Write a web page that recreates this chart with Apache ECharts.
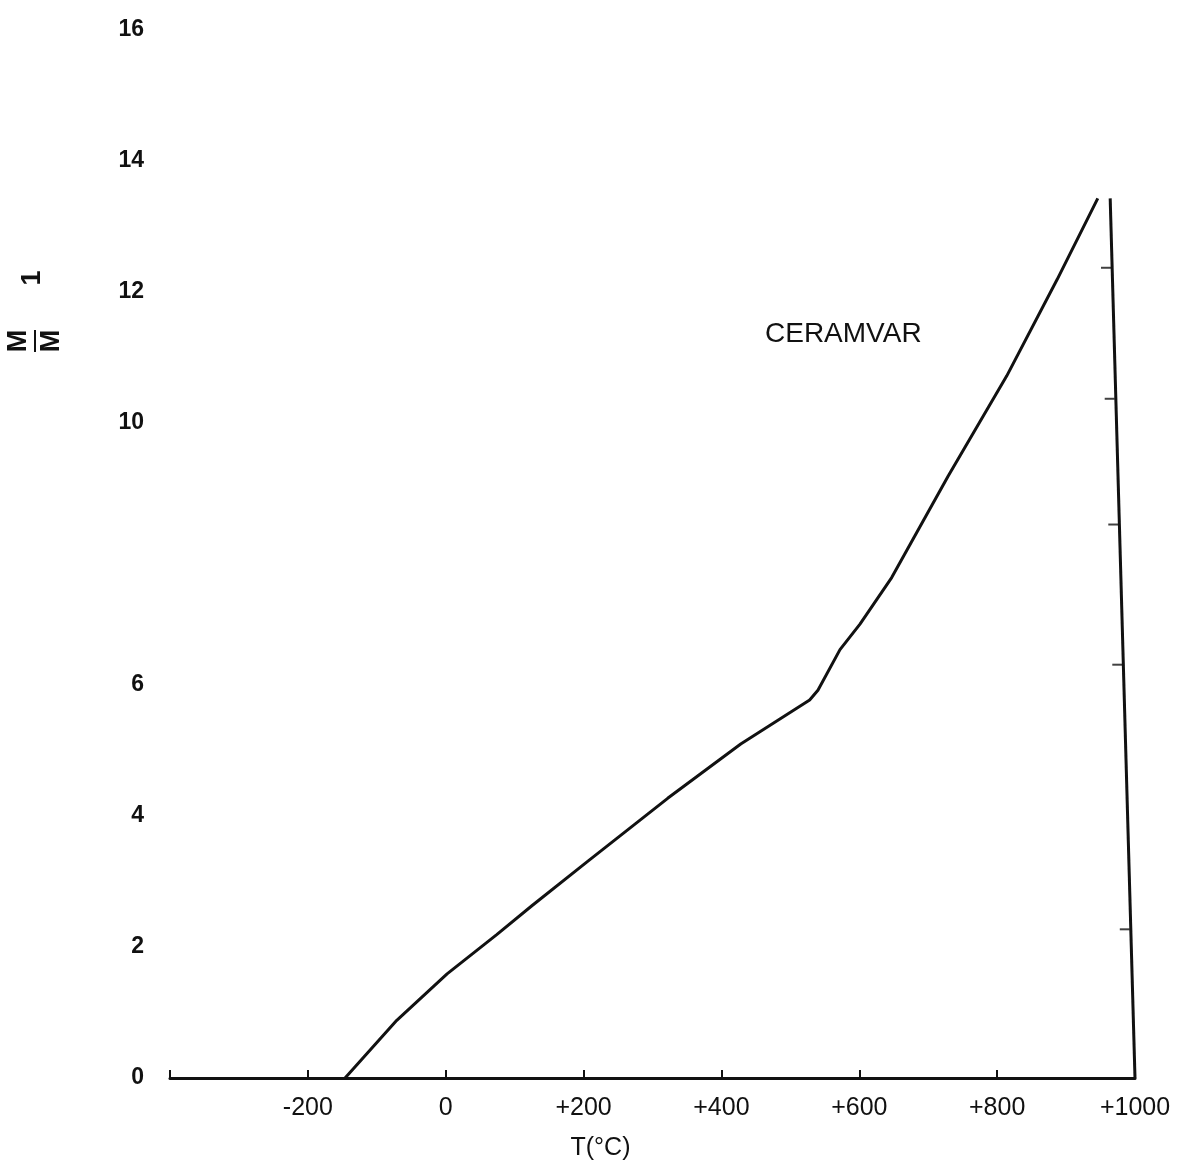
<!DOCTYPE html>
<html>
<head>
<meta charset="utf-8">
<script src="https://cdn.jsdelivr.net/npm/echarts@6/dist/echarts.min.js"></script>
<style>
  html, body { margin: 0; padding: 0; background: #ffffff; }
  #chart { width: 1184px; height: 1166px; }
</style>
</head>
<body>
<div id="chart"></div>
<script>
// Temperature (°C) and ratio values
var tempC = [-146, -71, 2, 74, 125, 205, 322, 428, 528, 540, 572, 601, 647, 729, 814, 887, 946];
var ratio = [0, 0.88, 1.59, 2.19, 2.63, 3.30, 4.27, 5.10, 5.77, 5.92, 6.54, 6.93, 7.64, 9.19, 10.72, 12.19, 13.43];

// Right-hand frame line (slightly slanted in the original) and its small ticks
var frameT = [1000, 964];
var frameV = [0, 13.43];
var frameTickT = [966.6, 972.0, 977.2, 983.0, 993.9];
var frameTickV = [12.37, 10.37, 8.45, 6.31, 2.27];

// Axis tick values
var xTicks = [-400, -200, 0, 200, 400, 600, 800, 1000];
var yTicks = [0, 2, 4, 6, 8, 10, 12, 14, 16];
var yHidden = [8];

var FONT = '"Liberation Sans", Arial, Helvetica, sans-serif';

var curve = tempC.map(function (t, i) { return [t, ratio[i]]; });
var frame = frameT.map(function (t, i) { return [t, frameV[i]]; });
var frameTicks = frameTickT.map(function (t, i) { return [t, frameTickV[i]]; });

var chart = echarts.init(document.getElementById('chart'), null, { renderer: 'canvas' });

chart.setOption({
  backgroundColor: '#ffffff',
  animation: false,
  grid: { left: 170, right: 49, top: 30, bottom: 78, containLabel: false },
  xAxis: {
    type: 'value',
    min: xTicks[0],
    max: xTicks[xTicks.length - 1],
    interval: 200,
    name: 'T(°C)',
    nameLocation: 'middle',
    nameGap: 58,
    nameTextStyle: { fontFamily: FONT, fontSize: 25, color: '#111', padding: [0, 104, 0, 0] },
    axisLine: { show: true, lineStyle: { color: '#111', width: 3 } },
    axisTick: { show: true, inside: true, length: 8, lineStyle: { color: '#111', width: 2 } },
    axisLabel: {
      margin: 18,
      fontFamily: FONT,
      fontSize: 25,
      color: '#111',
      formatter: function (v) {
        if (v === xTicks[0]) return '';
        return v > 0 ? '+' + v : String(v);
      }
    },
    splitLine: { show: false }
  },
  yAxis: {
    type: 'value',
    min: yTicks[0],
    max: yTicks[yTicks.length - 1],
    interval: 2,
    axisLine: { show: false },
    axisTick: { show: false },
    splitLine: { show: false },
    axisLabel: {
      margin: 26,
      fontFamily: FONT,
      fontSize: 23,
      fontWeight: 'bold',
      color: '#111',
      formatter: function (v) { return yHidden.indexOf(v) >= 0 ? '' : String(v); }
    }
  },
  series: [
    {
      type: 'line',
      name: 'CERAMVAR',
      data: curve,
      showSymbol: false,
      smooth: false,
      lineStyle: { color: '#111', width: 3 }
    },
    {
      type: 'line',
      data: frame,
      showSymbol: false,
      lineStyle: { color: '#111', width: 3 }
    },
    {
      type: 'scatter',
      data: frameTicks,
      symbol: 'rect',
      symbolSize: [10, 2],
      symbolOffset: [-6, 0],
      itemStyle: { color: '#111' }
    }
  ],
  graphic: [
    {
      type: 'text',
      left: 765,
      top: 320,
      style: { text: 'CERAMVAR', font: '28px ' + FONT, fill: '#111' }
    },
    {
      type: 'group',
      x: 35,
      y: 341,
      rotation: Math.PI / 2,
      children: [
        { type: 'text', style: { text: 'M', x: 0, y: -16, align: 'center', verticalAlign: 'middle', font: 'bold 27px ' + FONT, fill: '#111' } },
        { type: 'line', shape: { x1: -11, y1: 0, x2: 11, y2: 0 }, style: { stroke: '#111', lineWidth: 2 } },
        { type: 'text', style: { text: 'M', x: 0, y: 17, align: 'center', verticalAlign: 'middle', font: 'bold 27px ' + FONT, fill: '#111' } },
        { type: 'text', style: { text: '1', x: 63, y: -2, align: 'center', verticalAlign: 'middle', font: 'bold 27px ' + FONT, fill: '#111' } }
      ]
    }
  ]
});
</script>
</body>
</html>
